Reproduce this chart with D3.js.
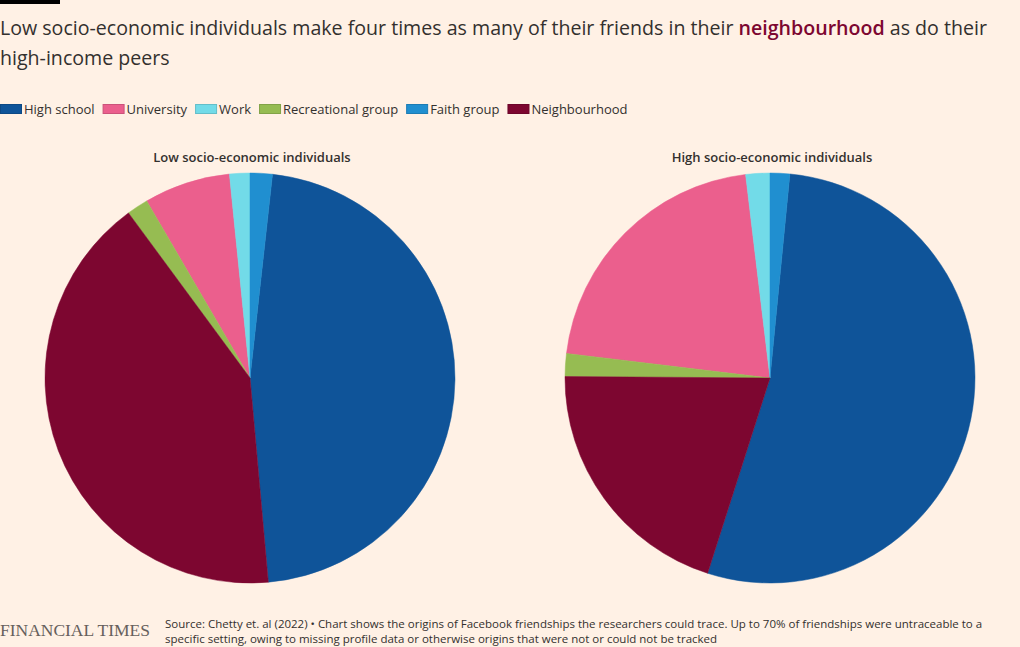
<!DOCTYPE html>
<html>
<head>
<meta charset="utf-8">
<script src="https://cdn.jsdelivr.net/npm/d3@7"></script>
<style>
  body { margin: 0; background: #fff1e5; }
  svg { display: block; font-family: "Open Sans", "Noto Sans", sans-serif; }
</style>
</head>
<body>
<svg width="1020" height="647"></svg>
<script>
// friendship origins, share of traceable friendships (%)
var categories = ['High school', 'University', 'Work', 'Recreational group', 'Faith group', 'Neighbourhood'];
var colours = ['#0f5499', '#eb5f8d', '#72dbe8', '#96bc52', '#208fd0', '#7d0630'];
var lowValues = [46.8, 6.8, 1.6, 1.7, 1.75, 41.3];
var highValues = [53.4, 21.2, 1.9, 1.8, 1.55, 20.2];
var groups = ['Low socio-economic individuals', 'High socio-economic individuals'];
// clockwise drawing order, starting at 12 o'clock
var drawOrder = ['Faith group', 'High school', 'Neighbourhood', 'Recreational group', 'University', 'Work'];

var svg = d3.select("svg");
var W = 1020, H = 647;

svg.append("rect").attr("width", W).attr("height", H).attr("fill", "#fff1e5");
svg.append("rect").attr("x", 0).attr("y", 0).attr("width", 60).attr("height", 4).attr("fill", "#000");

// title
var title = svg.append("g").attr("fill", "#33302e").attr("font-size", 19.6);
var t1 = title.append("text").attr("x", 0).attr("y", 35);
t1.append("tspan").text("Low socio-economic individuals make four times as many of their friends in their ");
t1.append("tspan").attr("fill", "#7d0630").attr("font-weight", 600).text("neighbourhood");
t1.append("tspan").text(" as do their");
title.append("text").attr("x", 0).attr("y", 65).text("high-income peers");

// legend
var colour = d3.scaleOrdinal().domain(categories).range(colours);
var legend = svg.append("g").attr("transform", "translate(0, 104)");
var lx = 0;
categories.forEach(function(c) {
  var item = legend.append("g").attr("transform", `translate(${lx}, 0)`);
  item.append("rect")
    .attr("x", 0.5).attr("y", 0.5).attr("width", 21).attr("height", 9)
    .attr("fill", colour(c)).attr("stroke", d3.color(colour(c)).darker(0.4)).attr("stroke-width", 1);
  var txt = item.append("text").attr("x", 24).attr("y", 9.5)
    .attr("font-size", 13).attr("fill", "#33302e").text(c);
  lx += 24 + txt.node().getComputedTextLength() + 8;
});

// pies
var radius = 205;
var pie = d3.pie()
  .value(function(d) { return d.value; })
  .sort(function(a, b) { return drawOrder.indexOf(a.name) - drawOrder.indexOf(b.name); });
var arc = d3.arc().innerRadius(0).outerRadius(radius);
var xScale = d3.scalePoint().domain(groups).range([250, 770]);

[lowValues, highValues].forEach(function(vals, i) {
  var data = categories.map(function(c, j) { return {name: c, value: vals[j]}; });
  var g = svg.append("g").attr("transform", `translate(${xScale(groups[i])}, 378)`);
  g.selectAll("path")
    .data(pie(data))
    .join("path")
    .attr("d", arc)
    .attr("fill", function(d) { return colour(d.data.name); })
    .attr("stroke", function(d) { return colour(d.data.name); })
    .attr("stroke-width", 0.5);
  svg.append("text")
    .attr("x", xScale(groups[i]) + 2).attr("y", 162)
    .attr("text-anchor", "middle").attr("font-size", 13).attr("font-weight", 600)
    .attr("fill", "#33302e").text(groups[i]);
});

// footer
svg.append("text").attr("x", 0).attr("y", 636)
  .attr("font-family", "'Liberation Serif', 'DejaVu Serif', serif").attr("font-size", 16)
  .attr("fill", "#66605c").attr("textLength", 150).attr("lengthAdjust", "spacingAndGlyphs")
  .text("FINANCIAL TIMES");
var src = svg.append("g").attr("font-size", 11.5).attr("fill", "#33302e");
src.append("text").attr("x", 165).attr("y", 628)
  .text("Source: Chetty et. al (2022) \u2022 Chart shows the origins of Facebook friendships the researchers could trace. Up to 70% of friendships were untraceable to a");
src.append("text").attr("x", 165).attr("y", 643)
  .text("specific setting, owing to missing profile data or otherwise origins that were not or could not be tracked");
</script>
</body>
</html>
